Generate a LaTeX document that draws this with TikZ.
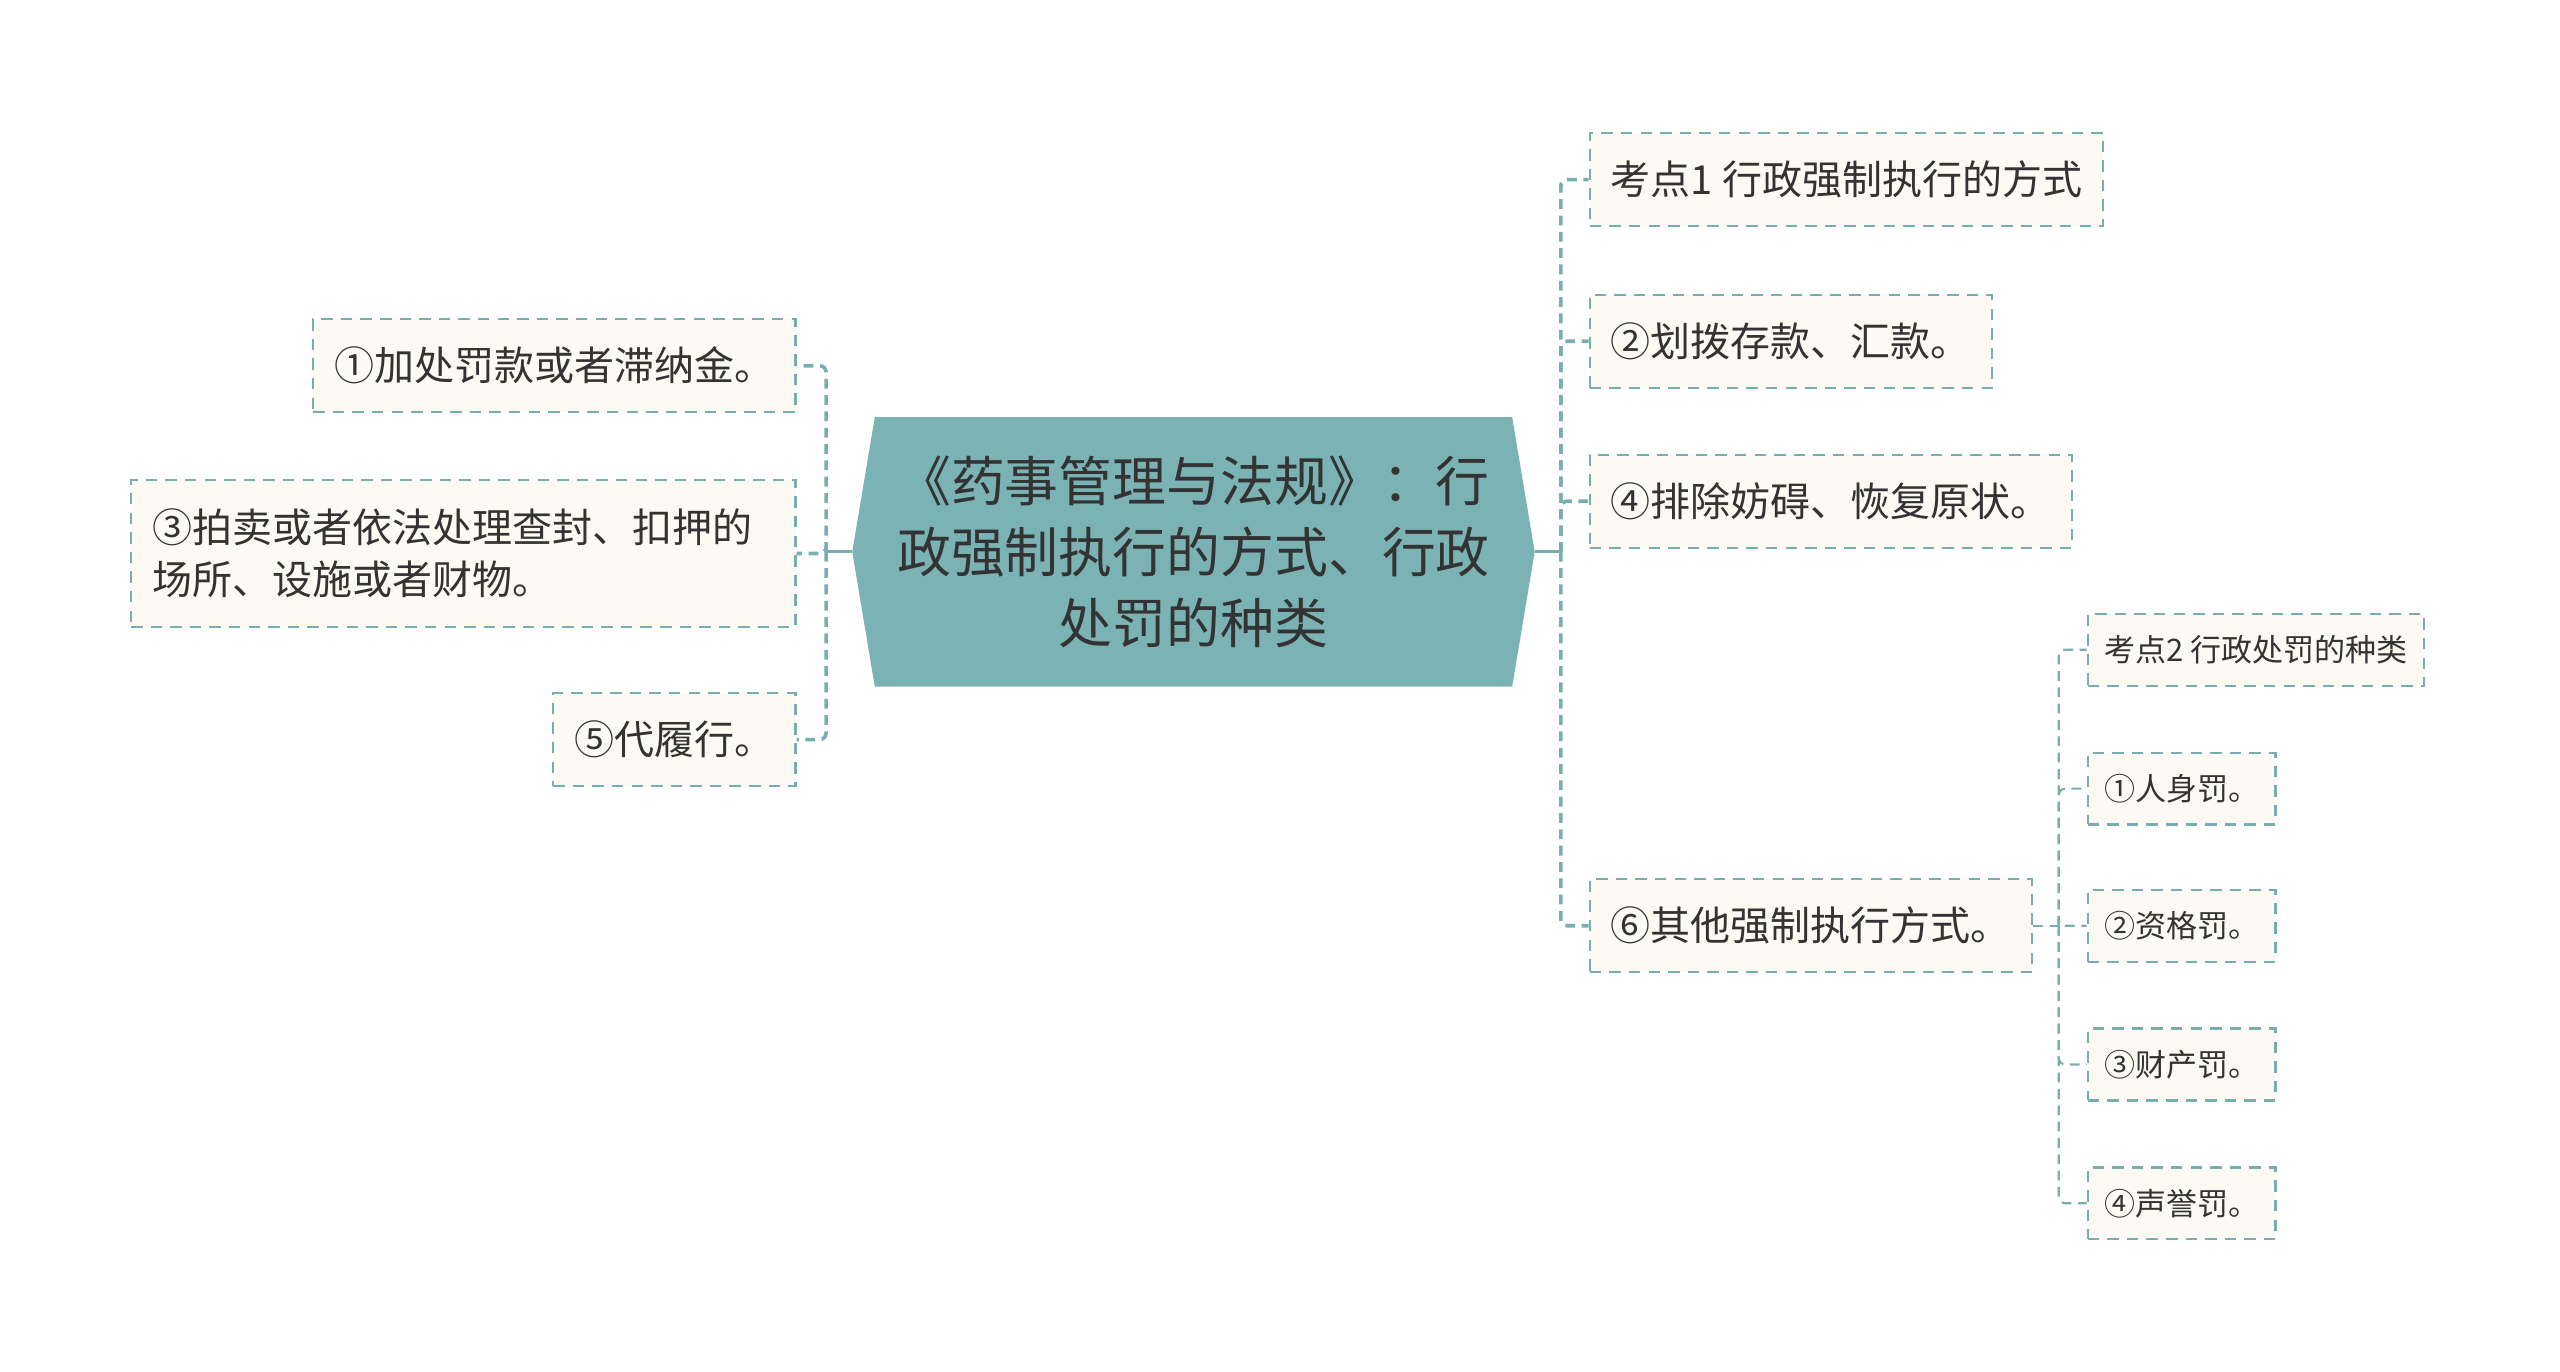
\documentclass[tikz,border=0pt]{standalone}
\usepackage{fontspec}
\usepackage{tikz}
\usetikzlibrary{shapes.symbols}
\newfontfamily\cjk{Noto Sans CJK SC}
\definecolor{hub}{HTML}{7BB3B5}
\definecolor{wire}{HTML}{78AEB0}
\definecolor{cream}{HTML}{FCFAF2}
\definecolor{ink}{HTML}{333333}
\tikzset{
	leaf/.style = {draw=wire, line width=1.4pt, dash pattern=on 7pt off 5pt, fill=cream, text=ink,
		font=\cjk\fontsize{24.5}{32}\selectfont, inner xsep=13pt, minimum height=57pt},
	twig/.style = {leaf, font=\cjk\fontsize{19}{24}\selectfont, inner xsep=10pt, minimum height=44pt},
	link/.style = {draw=wire, line width=2.2pt, dash pattern=on 6pt off 4pt, rounded corners=4pt},
	thin link/.style = {link, line width=1.3pt}
}

\begin{document}
\begin{tikzpicture}[x=1pt, y=-1pt]
	\useasboundingbox (0,0) rectangle (1568,840);
	\node[signal, signal to=west and east, signal pointer angle=161, fill=hub, text=ink,
		minimum width=418pt, minimum height=165pt, inner sep=0pt, align=center,
		font=\cjk\fontsize{33}{43.5}\selectfont] (c) at (731,338)
		{《药事管理与法规》：行\\政强制执行的方式、行政\\处罚的种类};
	% right
	\node[leaf, anchor=west] (k1) at (973,110) {考点1 行政强制执行的方式};
	\node[leaf, anchor=west] (k2) at (973,209) {②划拨存款、汇款。};
	\node[leaf, anchor=west] (k4) at (973,307) {④排除妨碍、恢复原状。};
	\node[leaf, anchor=west] (k6) at (973,567) {⑥其他强制执行方式。};
	% left
	\node[leaf, anchor=east] (l1) at (488,224) {①加处罚款或者滞纳金。};
	\node[leaf, anchor=east, align=left, text width=381pt, minimum height=90pt] (l3) at (488,339)
		{③拍卖或者依法处理查封、扣押的\\场所、设施或者财物。};
	\node[leaf, anchor=east] (l5) at (488,453) {⑤代履行。};
	% kinds
	\node[twig, anchor=west] (s0) at (1278,398) {考点2 行政处罚的种类};
	\node[twig, anchor=west] (s1) at (1278,483) {①人身罚。};
	\node[twig, anchor=west] (s2) at (1278,567) {②资格罚。};
	\node[twig, anchor=west] (s3) at (1278,652) {③财产罚。};
	\node[twig, anchor=west] (s4) at (1278,737) {④声誉罚。};

	\coordinate (rj) at (956,338);
	\coordinate (lj) at (506,338);
	\coordinate (sj) at (1261,567);
	\draw[draw=wire, line width=1.8pt] (c.east) -- (rj);
	\draw[draw=wire, line width=1.8pt] (c.west) -- (lj);
	\draw[thin link] (k6.east) -- (sj);
	\foreach \n in {k1,k2,k4,k6} \draw[link] (rj) |- (\n.west);
	\foreach \n in {l1,l3,l5} \draw[link] (lj) |- (\n.east);
	\foreach \n in {s0,s1,s2,s3,s4} \draw[thin link] (sj) |- (\n.west);
\end{tikzpicture}
\end{document}
